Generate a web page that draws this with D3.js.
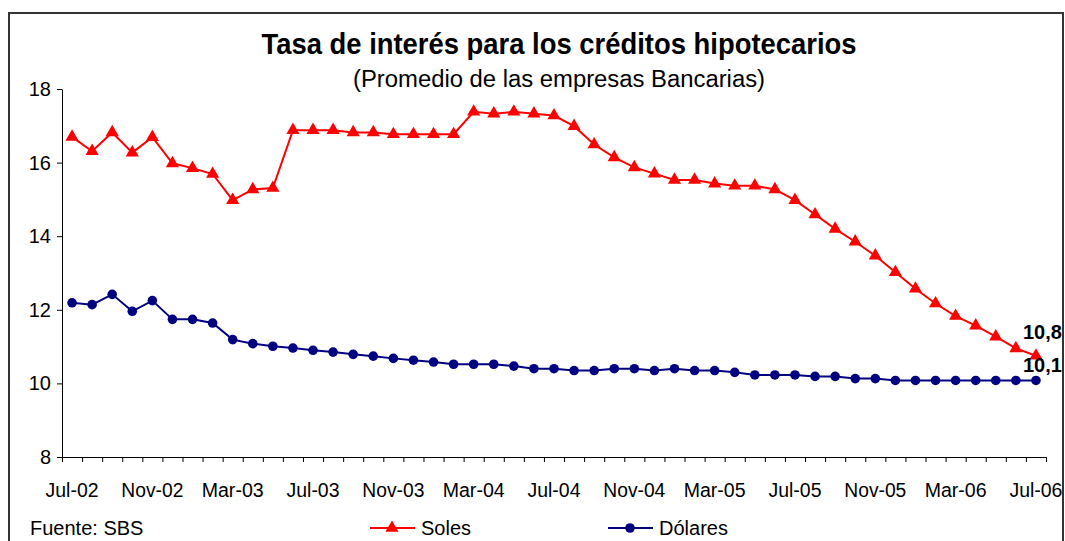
<!DOCTYPE html>
<html>
<head>
<meta charset="utf-8">
<script src="https://cdn.jsdelivr.net/npm/d3@7"></script>
<style>
  body { margin: 0; background: #fff; }
  text { font-family: "Liberation Sans", Arial, sans-serif; fill: #000; }
</style>
</head>
<body>
<div id="chart"></div>
<script>
// Month categories Jul-02 .. Jul-06
const monthNames = ['Ene', 'Feb', 'Mar', 'Abr', 'May', 'Jun', 'Jul', 'Ago', 'Sep', 'Oct', 'Nov', 'Dic'];
const months = [];
for (let i = 0; i < 49; i++) {
    const m = (6 + i) % 12;
    const y = 2 + Math.floor((6 + i) / 12);
    months.push(monthNames[m] + '-0' + y);
}

// Labels shown on the x axis (every 4 months)
const tickLabels = ['Jul-02', 'Nov-02', 'Mar-03', 'Jul-03', 'Nov-03', 'Mar-04', 'Jul-04',
    'Nov-04', 'Mar-05', 'Jul-05', 'Nov-05', 'Mar-06', 'Jul-06'];
const tickIndex = [0, 4, 8, 12, 16, 20, 24, 28, 32, 36, 40, 44, 48];

// Series values
const soles = [16.70, 16.31, 16.82, 16.27, 16.69, 15.98, 15.85, 15.69, 14.98, 15.27,
    15.31, 16.88, 16.88, 16.88, 16.82, 16.82, 16.77, 16.77, 16.77, 16.77,
    17.38, 17.33, 17.38, 17.33, 17.28, 16.99, 16.49, 16.14, 15.87, 15.70,
    15.53, 15.53, 15.43, 15.37, 15.37, 15.27, 14.98, 14.59, 14.20, 13.85,
    13.47, 13.02, 12.57, 12.17, 11.83, 11.57, 11.27, 10.95, 10.75];
const dolares = [12.19, 12.14, 12.42, 11.96, 12.25, 11.74, 11.74, 11.64, 11.19, 11.08,
    11.01, 10.96, 10.90, 10.85, 10.79, 10.74, 10.68, 10.63, 10.58, 10.52,
    10.52, 10.52, 10.47, 10.40, 10.40, 10.35, 10.35, 10.40, 10.40, 10.35,
    10.40, 10.35, 10.35, 10.30, 10.23, 10.23, 10.23, 10.19, 10.19, 10.13,
    10.13, 10.08, 10.08, 10.08, 10.08, 10.08, 10.08, 10.08, 10.08];
const yTicks = [8, 10, 12, 14, 16, 18];
const endLabels = ['10,8', '10,1'];

const width = 1065;
const height = 541;
const plot = { left: 62, right: 1046, top: 89, bottom: 457 };

const svg = d3.select('#chart')
    .append('svg')
    .attr('width', width)
    .attr('height', height);

// Outer frame
svg.append('rect')
    .attr('x', 9).attr('y', 13)
    .attr('width', 1054).attr('height', 560)
    .attr('fill', 'none')
    .attr('stroke', '#333')
    .attr('stroke-width', 2);

// Scales
const x = d3.scaleBand().domain(months).range([plot.left, plot.right]).padding(0);
const xEdge = d3.scaleLinear().domain([0, months.length]).range([plot.left, plot.right]);
const y = d3.scaleLinear().domain([8, 18]).range([plot.bottom, plot.top]);
const cx = d => x(d) + x.bandwidth() / 2;

// Title
svg.append('text')
    .attr('x', 559).attr('y', 54)
    .attr('text-anchor', 'middle')
    .attr('font-size', 30)
    .attr('font-weight', 'bold')
    .attr('textLength', 595)
    .attr('lengthAdjust', 'spacingAndGlyphs')
    .text('Tasa de interés para los créditos hipotecarios');

svg.append('text')
    .attr('x', 559).attr('y', 87)
    .attr('text-anchor', 'middle')
    .attr('font-size', 23.5)
    .attr('textLength', 412)
    .attr('lengthAdjust', 'spacingAndGlyphs')
    .text('(Promedio de las empresas Bancarias)');

// Y axis
const yAxis = svg.append('g')
    .attr('transform', `translate(${plot.left},0)`)
    .call(d3.axisLeft(y).tickValues(yTicks).tickSize(5).tickSizeOuter(0).tickFormat(d3.format('d')));
yAxis.select('.domain').attr('stroke', '#000');
yAxis.selectAll('.tick line').attr('stroke', '#000');
yAxis.selectAll('.tick text')
    .attr('x', -11)
    .attr('font-size', 20)
    .attr('font-family', '"Liberation Sans", Arial, sans-serif');

// X axis: tick marks at month boundaries
const xAxis = svg.append('g')
    .attr('transform', `translate(0,${plot.bottom})`)
    .call(d3.axisBottom(xEdge).tickValues(d3.range(months.length + 1)).tickSize(5).tickSizeOuter(0).tickFormat(''));
xAxis.select('.domain').attr('stroke', '#000');
xAxis.selectAll('.tick line').attr('stroke', '#000');

// X labels
svg.append('g')
    .selectAll('text')
    .data(tickIndex)
    .enter()
    .append('text')
    .attr('x', (d, i) => cx(months[d]))
    .attr('y', 497)
    .attr('text-anchor', 'middle')
    .attr('font-size', 20)
    .attr('textLength', (d, i) => tickLabels[i].startsWith('Jul') ? 53 : 62)
    .attr('lengthAdjust', 'spacingAndGlyphs')
    .text((d, i) => tickLabels[i]);

// Lines
const line = vals => d3.line()
    .x((d, i) => cx(months[i]))
    .y(d => y(d))(vals);

svg.append('path')
    .attr('d', line(soles))
    .attr('fill', 'none')
    .attr('stroke', '#ff0000')
    .attr('stroke-width', 2);

svg.append('path')
    .attr('d', line(dolares))
    .attr('fill', 'none')
    .attr('stroke', '#000080')
    .attr('stroke-width', 2);

// Markers
const tri = d3.symbol().type(d3.symbolTriangle).size(75);
svg.append('g')
    .selectAll('path')
    .data(soles)
    .enter()
    .append('path')
    .attr('d', tri)
    .attr('transform', (d, i) => `translate(${cx(months[i])},${y(d)})`)
    .attr('fill', '#ff0000');

svg.append('g')
    .selectAll('circle')
    .data(dolares)
    .enter()
    .append('circle')
    .attr('cx', (d, i) => cx(months[i]))
    .attr('cy', d => y(d))
    .attr('r', 4.8)
    .attr('fill', '#000080');

// End labels
svg.append('text')
    .attr('x', 1023).attr('y', 339)
    .attr('font-size', 20)
    .attr('font-weight', 'bold')
    .text(endLabels[0]);
svg.append('text')
    .attr('x', 1023).attr('y', 372)
    .attr('font-size', 20)
    .attr('font-weight', 'bold')
    .text(endLabels[1]);

// Source
svg.append('text')
    .attr('x', 30).attr('y', 535)
    .attr('font-size', 20)
    .text('Fuente: SBS');

// Legend
const legend = [
    { name: 'Soles', color: '#ff0000', shape: 'tri', x: 370 },
    { name: 'Dólares', color: '#000080', shape: 'circle', x: 608 }
];
const lg = svg.append('g').selectAll('g')
    .data(legend)
    .enter()
    .append('g')
    .attr('transform', d => `translate(${d.x},528)`);
lg.append('line')
    .attr('x1', 0).attr('x2', 45)
    .attr('stroke', d => d.color)
    .attr('stroke-width', 2);
lg.filter(d => d.shape === 'tri').append('path')
    .attr('d', tri)
    .attr('transform', 'translate(22,0)')
    .attr('fill', d => d.color);
lg.filter(d => d.shape === 'circle').append('circle')
    .attr('cx', 22).attr('r', 4.8)
    .attr('fill', d => d.color);
lg.append('text')
    .attr('x', 51).attr('y', 7)
    .attr('font-size', 20)
    .text(d => d.name);
</script>
</body>
</html>
